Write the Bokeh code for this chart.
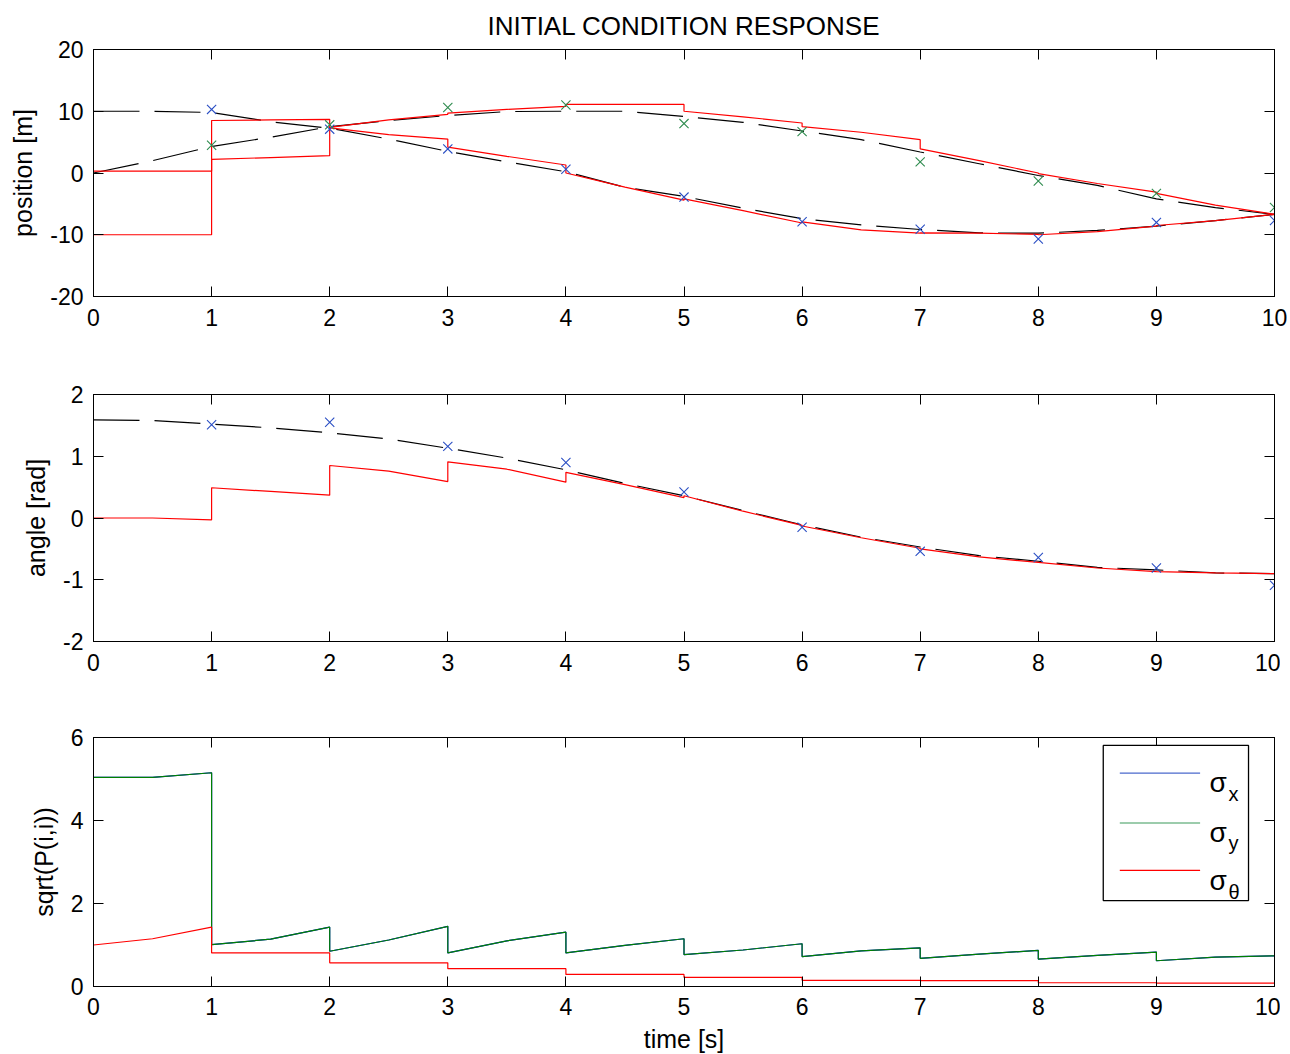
from bokeh.plotting import figure
from bokeh.layouts import column
from bokeh.models import (LinearAxis, FixedTicker, Range1d, CustomJSTickFormatter,
                          BoxAnnotation, Arrow, Label)
from bokeh.embed import file_html
from bokeh.resources import INLINE

# ---------------- data ----------------
T_TRUTH = [0, 0.5, 1, 1.5, 2, 2.5, 3, 3.5, 4, 4.5, 5, 5.5, 6, 6.5, 7, 7.5, 8, 8.5, 9, 9.5, 10]
X_TRUE = [10.0, 10.0, 9.8, 8.3, 7.25, 5.5, 3.5, 1.8, 0.2, -2.3, -3.8, -5.7, -7.4, -8.4,
          -9.15, -9.7, -9.75, -9.3, -8.6, -7.7, -6.7]
Y_TRUE = [0.0, 2.0, 4.3, 5.8, 7.5, 8.5, 9.3, 9.95, 10.0, 10.0, 9.15, 8.2, 6.8, 5.4,
          3.4, 1.5, -0.4, -2.0, -4.2, -5.6, -6.7]
TH_TRUE = [1.59, 1.58, 1.52, 1.46, 1.38, 1.28, 1.13, 0.97, 0.78, 0.56, 0.36, 0.12, -0.11,
           -0.31, -0.47, -0.61, -0.70, -0.80, -0.84, -0.89, -0.90]

T_EST = [0, 0.5, 1, 1, 1.5, 2, 2, 2.5, 3, 3, 3.5, 4, 4, 4.5, 5, 5, 5.5, 6, 6, 6.5,
         7, 7, 7.5, 8, 8, 8.5, 9, 9, 9.5, 10]
X_EST = [-10.0, -10.0, -10.0, 8.5, 8.6, 8.7, 7.3, 6.2, 5.5, 4.2, 2.7, 1.3, 0.0, -2.3,
         -4.4, -4.2, -6.1, -8.1, -7.9, -9.2, -9.75, -9.7, -9.75, -9.95, -10.0, -9.5,
         -8.6, -8.5, -7.7, -6.7]
Y_EST = [0.3, 0.3, 0.3, 2.2, 2.5, 2.8, 7.4, 8.6, 9.5, 9.7, 10.3, 10.8, 11.1, 11.1,
         11.1, 10.0, 9.1, 8.1, 7.5, 6.6, 5.4, 3.9, 2.0, 0.0, -0.1, -1.7, -3.1, -3.3,
         -5.2, -6.7]
TH_EST = [0.0, 0.0, -0.03, 0.49, 0.43, 0.37, 0.85, 0.76, 0.59, 0.91, 0.79, 0.58, 0.74,
          0.54, 0.33, 0.36, 0.11, -0.12, -0.13, -0.32, -0.49, -0.50, -0.63, -0.72,
          -0.72, -0.81, -0.87, -0.87, -0.89, -0.90]
SIG_X = [5.04, 5.04, 5.15, 1.01, 1.14, 1.43, 0.85, 1.12, 1.45, 0.81, 1.10, 1.31, 0.81,
         0.99, 1.15, 0.77, 0.88, 1.03, 0.72, 0.86, 0.93, 0.68, 0.78, 0.87, 0.66, 0.75,
         0.83, 0.62, 0.71, 0.74]
SIG_Y = [5.04, 5.04, 5.15, 1.01, 1.14, 1.43, 0.85, 1.12, 1.45, 0.81, 1.10, 1.31, 0.81,
         0.99, 1.15, 0.77, 0.88, 1.03, 0.72, 0.86, 0.93, 0.68, 0.78, 0.87, 0.66, 0.75,
         0.83, 0.62, 0.71, 0.74]
SIG_TH = [1.0, 1.15, 1.43, 0.81, 0.81, 0.81, 0.57, 0.57, 0.57, 0.43, 0.43, 0.43, 0.29,
          0.29, 0.29, 0.22, 0.22, 0.22, 0.15, 0.15, 0.15, 0.14, 0.14, 0.14, 0.09, 0.09,
          0.09, 0.08, 0.08, 0.08]

T_MEAS = [1, 2, 3, 4, 5, 6, 7, 8, 9, 10]
X_MEAS = [10.3, 7.1, 3.9, 0.6, -3.9, -7.9, -9.1, -10.7, -8.0, -7.7]
Y_MEAS = [4.5, 7.8, 10.6, 11.0, 8.0, 6.7, 1.8, -1.3, -3.3, -5.6]
TH_MEAS = [1.51, 1.55, 1.16, 0.90, 0.42, -0.15, -0.54, -0.64, -0.81, -1.09]

X_TICKS = [0, 1, 2, 3, 4, 5, 6, 7, 8, 9, 10]
POS_TICKS = [-20, -10, 0, 10, 20]
ANG_TICKS = [-2, -1, 0, 1, 2]
SIG_TICKS = [0, 2, 4, 6]

TITLE = "INITIAL CONDITION RESPONSE"
LEGEND_NAMES = [("σ", "x"), ("σ", "y"), ("σ", "θ")]

# ---------------- styles ----------------
FONT = "Liberation Sans"
TICK_FS = "23px"
LABEL_FS = "25px"
BLACK = "#000000"
RED = "#ff0000"
BLUE = "#0000ff"
GREEN = "#008000"
MARK_BLUE = "#2b4fc4"
MARK_GREEN = "#2e8b4e"
DASH = "46 15"
PLAIN = "return tick.toString();"
EMPTY = "return '';"


def blank_axis(ticks, tick_out, show):
    return LinearAxis(ticker=FixedTicker(ticks=ticks),
                      formatter=CustomJSTickFormatter(code=EMPTY),
                      major_tick_in=10 if show else 0, major_tick_out=tick_out,
                      minor_tick_line_color=None,
                      major_label_standoff=0,
                      major_label_text_font_size="0px",
                      axis_line_color=BLACK if show else None,
                      major_tick_line_color=BLACK if show else None)


def make_fig(frame_h, yr, yticks, ylabel, b_top, b_bottom, xlabel=None, x_standoff=12):
    p = figure(frame_width=1181, frame_height=frame_h,
               x_range=Range1d(0, 10), y_range=Range1d(*yr),
               output_backend="svg", toolbar_location=None,
               min_border_left=86, min_border_right=13,
               min_border_top=b_top, min_border_bottom=b_bottom)
    p.grid.visible = False
    p.outline_line_color = BLACK
    p.outline_line_width = 1
    p.background_fill_color = "white"
    p.border_fill_color = "white"
    for ax, ticks in ((p.xaxis, X_TICKS), (p.yaxis, yticks)):
        ax.ticker = FixedTicker(ticks=ticks)
        ax.formatter = CustomJSTickFormatter(code=PLAIN)
        ax.major_tick_in = 10
        ax.major_tick_out = 0
        ax.minor_tick_line_color = None
        ax.axis_line_color = BLACK
        ax.major_tick_line_color = BLACK
        ax.major_label_text_font = FONT
        ax.major_label_text_font_size = TICK_FS
        ax.major_label_text_color = BLACK
        ax.axis_label_text_font = FONT
        ax.axis_label_text_font_size = LABEL_FS
        ax.axis_label_text_font_style = "normal"
        ax.axis_label_text_color = BLACK
    p.xaxis.major_label_standoff = x_standoff
    p.yaxis.major_label_standoff = 10
    p.yaxis.axis_label = ylabel
    p.yaxis.axis_label_standoff = 10
    if xlabel:
        p.xaxis.axis_label = xlabel
        p.xaxis.axis_label_standoff = 7
    # box axes (MATLAB style) with inward ticks, no labels
    p.add_layout(blank_axis(X_TICKS, 0, True), "above")
    p.add_layout(blank_axis(yticks, 0, True), "right")
    # invisible spacer axis on the far left (keeps the frames at the reference position)
    p.add_layout(blank_axis(yticks, 6, False), "left")
    return p


# ---------------- top: position ----------------
p1 = make_fig(247, (-20, 20), POS_TICKS, "position [m]", 41, 49)
p1.title.text = TITLE
p1.title.align = "center"
p1.title.text_font = FONT
p1.title.text_font_size = "26px"
p1.title.text_font_style = "normal"
p1.title.text_color = BLACK
p1.title.standoff = 17
p1.line(T_TRUTH, X_TRUE, line_color=BLACK, line_width=1.2, line_dash=DASH)
p1.line(T_TRUTH, Y_TRUE, line_color=BLACK, line_width=1.2, line_dash=DASH)
p1.line(T_EST, X_EST, line_color=RED, line_width=1.2)
p1.line(T_EST, Y_EST, line_color=RED, line_width=1.2)
p1.scatter(T_MEAS, X_MEAS, marker="x", size=13, line_color=MARK_BLUE, line_width=1.1)
p1.scatter(T_MEAS, Y_MEAS, marker="x", size=13, line_color=MARK_GREEN, line_width=1.1)

# ---------------- middle: angle ----------------
p2 = make_fig(247, (-2, 2), ANG_TICKS, "angle [rad]", 49, 48)
p2.line(T_TRUTH, TH_TRUE, line_color=BLACK, line_width=1.2, line_dash=DASH)
p2.line(T_EST, TH_EST, line_color=RED, line_width=1.2)
p2.scatter(T_MEAS, TH_MEAS, marker="x", size=13, line_color=MARK_BLUE, line_width=1.1)

# ---------------- bottom: sqrt(P(i,i)) ----------------
p3 = make_fig(249, (0, 6), SIG_TICKS, "sqrt(P(i,i))", 48, 60, xlabel="time [s]",
              x_standoff=11)
p3.line(T_EST, SIG_X, line_color=BLUE, line_width=1.2)
p3.line(T_EST, SIG_Y, line_color=GREEN, line_width=1.2)
p3.line(T_EST, SIG_TH, line_color=RED, line_width=1.2)

# legend (drawn as annotations so the subscripts can be typeset)
LEG_BOX = dict(left=8.55, right=9.78, bottom=2.07, top=5.81)
LEG_LINE_X = (8.69, 9.37)
LEG_LINE_Y = [5.14, 3.94, 2.80]
LEG_SIGMA_X = 9.45
LEG_SUB_X = 9.61
LEG_SIGMA_BASE = [4.92, 3.72, 2.55]
LEG_SUB_BASE = [4.64, 3.45, 2.27]
LEG_COLORS = ["#4a68cc", "#3a9a5a", RED]

p3.add_layout(BoxAnnotation(fill_color="white", fill_alpha=1.0, line_color=BLACK,
                            line_alpha=1.0, line_width=1.3, **LEG_BOX))
for (sym, sub), ly, sb, subb, col in zip(LEGEND_NAMES, LEG_LINE_Y, LEG_SIGMA_BASE,
                                         LEG_SUB_BASE, LEG_COLORS):
    p3.add_layout(Arrow(end=None, x_start=LEG_LINE_X[0], x_end=LEG_LINE_X[1],
                        y_start=ly, y_end=ly, line_color=col, line_width=1.2))
    p3.add_layout(Label(x=LEG_SIGMA_X, y=sb, text=sym, text_font=FONT,
                        text_font_size="28px", text_color=BLACK,
                        text_baseline="alphabetic", text_align="left"))
    p3.add_layout(Label(x=LEG_SUB_X, y=subb, text=sub, text_font=FONT,
                        text_font_size="20px", text_color=BLACK,
                        text_baseline="alphabetic", text_align="left"))

layout = column(p1, p2, p3)
open("out.html", "w").write(file_html(layout, INLINE))
